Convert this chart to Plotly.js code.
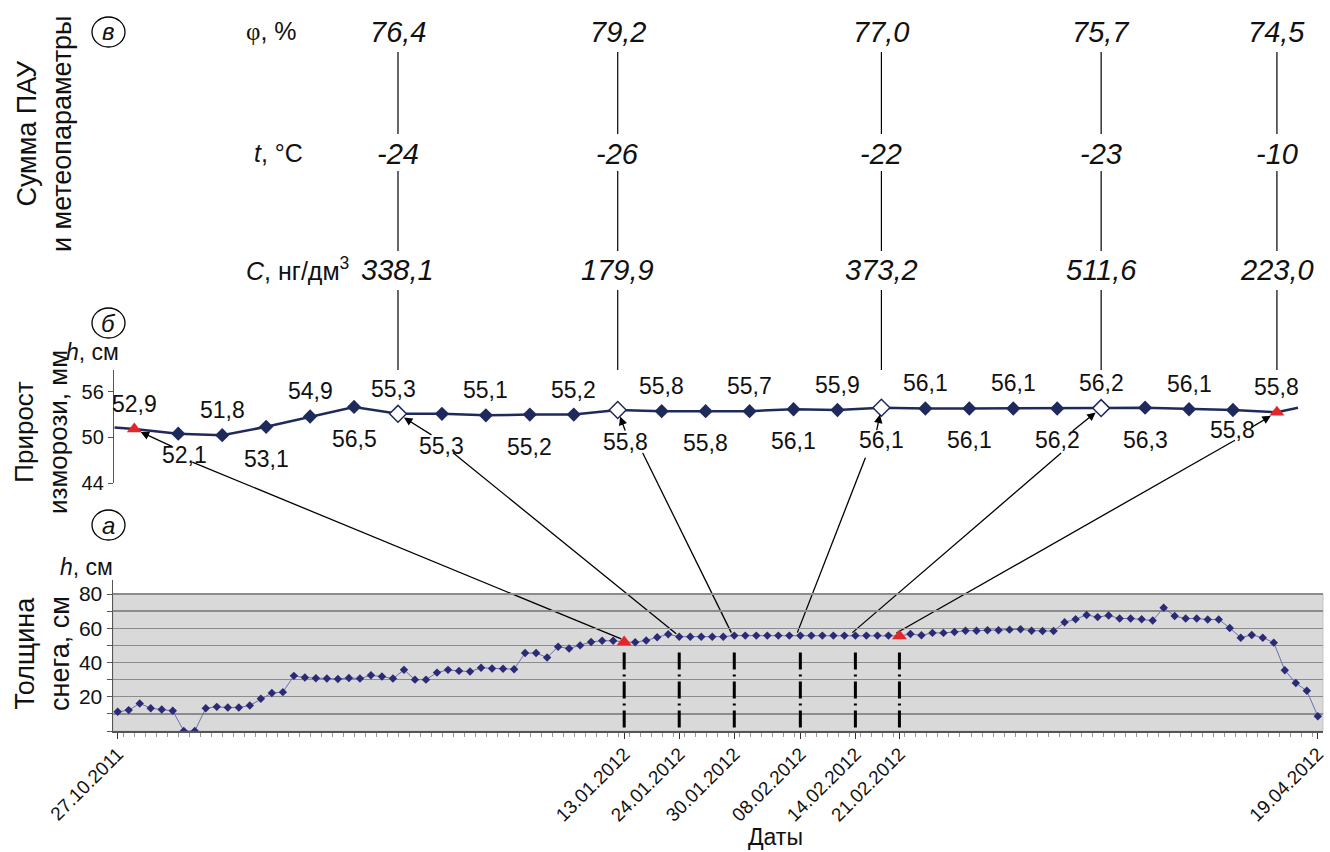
<!DOCTYPE html>
<html><head><meta charset="utf-8">
<script src="https://cdn.plot.ly/plotly-3.0.1.min.js"></script>
<style>html,body{margin:0;padding:0;background:#fff}#chart{width:1330px;height:852px}</style>
</head><body><div id="chart"></div>
<script>
// ================= DATA =================
// (а) snow depth, cm, one value per measurement (category index)
const snowDepth = [
 11.2,12.2,16.1,13.3,12.5,11.8,0,0,13.3,14.1,
 13.7,13.7,14.9,18.8,22.2,22.7,32.2,31.2,30.8,30.6,
 30.4,31.0,30.6,32.5,31.8,30.6,35.7,30.0,30.0,34.1,
 35.7,35.1,34.7,36.9,36.5,36.3,36.1,45.5,45.5,42.9,
 49.2,48.2,50.0,52.0,52.7,52.7,52.0,51.8,52.9,54.7,
 56.5,55.1,55.1,55.1,55.1,55.1,55.7,55.7,55.7,55.7,
 55.7,55.7,55.7,55.7,55.7,55.7,55.7,55.7,55.7,55.7,
 55.7,55.5,56.6,55.9,57.3,57.3,57.8,58.6,58.6,58.8,
 58.8,59.2,59.4,58.6,58.4,58.4,63.5,65.3,67.8,66.5,
 67.5,65.7,65.7,65.3,64.5,72.0,67.1,65.7,65.7,65.1,
 65.1,60.2,54.5,56.1,54.5,51.6,35.5,28.0,23.5,8.6
];
const snowDateIdx   = [0, 46, 51, 56, 62, 67, 71, 109];
const snowDateText  = ['27.10.2011','13.01.2012','24.01.2012','30.01.2012','08.02.2012','14.02.2012','21.02.2012','19.04.2012'];
const snowSampleIdx = [46, 51, 56, 62, 67, 71];
const snowTriangleIdx = [46, 71];

// (б) rime growth: plotted heights and their value labels
const rimeH = [51.1,50.5,50.3,51.4,52.75,54.0,53.1,53.1,52.9,53.0,53.0,53.6,53.45,53.45,53.45,53.7,53.6,53.9,53.8,53.8,53.8,53.8,53.85,53.9,53.7,53.6,53.3];
const rimeLabels = [52.9,52.1,51.8,53.1,54.9,56.5,55.3,55.3,55.1,55.2,55.2,55.8,55.8,55.8,55.7,56.1,55.9,56.1,56.1,56.1,56.1,56.2,56.2,56.3,56.1,55.8,55.8];
const rimeEdgeX = [-0.45, 26.48];
const rimeEdgeY = [51.3, 53.9];
const rimeHollowIdx = [6, 11, 17, 22];
const rimeTriangleIdx = [0, 26];

// links between snow samples and rime points
const linkSnowIdx = [46, 51, 56, 62, 67, 71];
const linkRimeIdx = [0, 6, 11, 17, 22, 26];

// (в) PAH sum and meteo parameters at rime points
const metRimeIdx  = [6, 11, 17, 22, 26];
const humidity    = [76.4, 79.2, 77.0, 75.7, 74.5];
const temperature = [-24, -26, -22, -23, -10];
const pahSum      = [338.1, 179.9, 373.2, 511.6, 223.0];

// ================= LAYOUT GEOMETRY (pixels) =================
const W = 1330, H = 852;
const FONT = 'Liberation Sans, Arial, sans-serif';
const G = {
  mid: {x0:114, x1:1320, y0:370, y1:483.3, xr:[-0.462, 26.98], yr:[44, 58.84]},
  bot: {x0:113, x1:1323, y0:580, y1:731,   xr:[-0.427, 109.47], yr:[0, 88.18]}
};
const px = (g, v) => g.x0 + (v - g.xr[0]) / (g.xr[1] - g.xr[0]) * (g.x1 - g.x0);
const py = (g, v) => g.y1 - (v - g.yr[0]) / (g.yr[1] - g.yr[0]) * (g.y1 - g.y0);
const P = x => x / W, Q = y => 1 - y / H;
const fmt1 = v => v.toFixed(1).replace('.', ',');

const NAVY = '#1f2a5c', RED = '#e3262b';
const rimeIdx = rimeH.map((_, i) => i);
const rimePlainIdx = rimeIdx.filter(i => !rimeHollowIdx.includes(i) && !rimeTriangleIdx.includes(i));
const snowIdx = snowDepth.map((_, i) => i);
const snowPlainIdx = snowIdx.filter(i => !snowTriangleIdx.includes(i));

const traces = [
  // snow depth
  {x: snowIdx, y: snowDepth, xaxis:'x2', yaxis:'y2', mode:'lines',
   line:{color:'#6c6cb8', width:1}, hoverinfo:'skip'},
  {x: snowPlainIdx, y: snowPlainIdx.map(i => snowDepth[i]), xaxis:'x2', yaxis:'y2', mode:'markers',
   marker:{symbol:'diamond', size:6.5, color:'#2b2b75'}, hoverinfo:'skip'},
  {x: snowTriangleIdx, y: snowTriangleIdx.map(i => snowDepth[i]), xaxis:'x2', yaxis:'y2', mode:'markers',
   marker:{symbol:'triangle-up', size:13, color:RED}, hoverinfo:'skip'},
  // rime growth
  {x: [rimeEdgeX[0], ...rimeIdx, rimeEdgeX[1]], y: [rimeEdgeY[0], ...rimeH, rimeEdgeY[1]], mode:'lines',
   line:{color:NAVY, width:2.5}, hoverinfo:'skip'},
  {x: rimePlainIdx, y: rimePlainIdx.map(i => rimeH[i]), mode:'markers', marker:{symbol:'diamond', size:11, color:NAVY}, hoverinfo:'skip'},
  {x: rimeHollowIdx, y: rimeHollowIdx.map(i => rimeH[i]), mode:'markers',
   marker:{symbol:'diamond', size:13, color:'#ffffff', line:{color:NAVY, width:1.5}}, hoverinfo:'skip'},
  {x: rimeTriangleIdx, y: rimeTriangleIdx.map(i => rimeH[i]), mode:'markers',
   marker:{symbol:'triangle-up', size:13, color:RED}, hoverinfo:'skip'}
];

const shapes = [];
const annotations = [];

// gray plot background of snow panel (0..80)
shapes.push({type:'rect', xref:'paper', yref:'paper', layer:'below',
  x0:P(G.bot.x0), x1:P(G.bot.x1), y0:Q(py(G.bot, 0)), y1:Q(py(G.bot, 80)),
  fillcolor:'#d9d9d9', line:{color:'#c4c4c4', width:1}});

// links from snow samples to rime points (pixel offsets of the upper end)
const linkTopOff = [[58,33],[55,39],[25,43],[-16,50],[-40,45],[-42,28]];
linkSnowIdx.forEach((k, n) => {
  const j = linkRimeIdx[n];
  shapes.push({type:'line', xref:'paper', yref:'paper', layer:'below',
    x0:P(px(G.bot, k) - 3), y0:Q(py(G.bot, snowDepth[k]) - 3),
    x1:P(px(G.mid, j) + linkTopOff[n][0]), y1:Q(py(G.mid, rimeH[j]) + linkTopOff[n][1]),
    line:{color:'#000', width:1.3}});
});

// dash-dot sample markers in snow panel
const dashTop = 48, dashBottom = 2;
snowSampleIdx.forEach(k => shapes.push({type:'line', xref:'x2', yref:'y2', x0:k, x1:k, y0:dashBottom, y1:dashTop,
  line:{color:'#000', width:3, dash:'17px,5px,2px,5px'}}));

// short arrows from labels to the marked rime points
const arrowTail = [[39,18],[35,22],[8,22],[-5,24],[-30,24],[-27,16]];
linkRimeIdx.forEach((j, n) => annotations.push({xref:'x', yref:'y', x:j, y:rimeH[j], text:'', showarrow:true,
  ax:arrowTail[n][0], ay:arrowTail[n][1], arrowhead:2, arrowsize:1.3, arrowwidth:1.3, arrowcolor:'#000', standoff:7}));

// rime value labels, alternating above / below
const belowShift = {1:21, 25:20};
const labelDx = {1:6, 11:8, 6:-4};
rimeLabels.forEach((v, i) => {
  const top = i % 2 === 0;
  annotations.push({xref:'x', yref:'y', x:i, y:rimeH[i], text:fmt1(v), showarrow:false,
    xshift: labelDx[i] || 0,
    yshift: top ? 25 : -(belowShift[i] || 32),
    font:{family:FONT, size:23, color:'#111'}});
});

// (в) meteo columns
const rowY = [32, 154, 270];
const segs = [[52,134],[171,251],[290,370]];
metRimeIdx.forEach((j, n) => {
  const x = px(G.mid, j);
  segs.forEach(s => shapes.push({type:'line', xref:'paper', yref:'paper', x0:P(x), x1:P(x), y0:Q(s[0]), y1:Q(s[1]),
    line:{color:'#000', width:1.2}}));
  [fmt1(humidity[n]), String(temperature[n]), fmt1(pahSum[n])].forEach((t, r) =>
    annotations.push({xref:'paper', yref:'paper', x:P(x), y:Q(rowY[r]), text:'<i>'+t+'</i>', showarrow:false,
      xanchor:'center', yanchor:'middle', font:{family:FONT, size:29, color:'#111'}}));
});
const rowLabels = ['<span style="font-family:Liberation Serif">φ</span>, %', '<i>t</i>, °C', '<i>C</i>, нг/дм<sup>3</sup>'];
const rowLabelX = [244, 252, 244];
rowLabels.forEach((t, r) => annotations.push({xref:'paper', yref:'paper', x:P(rowLabelX[r]), y:Q(rowY[r] - 1), text:t,
  showarrow:false, xanchor:'left', yanchor:'middle', font:{family:FONT, size:25, color:'#111'}}));

// panel letters in circles
[['в',32],['б',323],['а',525]].forEach(([t, cy]) => {
  shapes.push({type:'circle', xref:'paper', yref:'paper', x0:P(92), x1:P(125), y0:Q(cy+15), y1:Q(cy-15),
    line:{color:'#000', width:1.3}});
  annotations.push({xref:'paper', yref:'paper', x:P(108.5), y:Q(cy), text:'<i>'+t+'</i>', showarrow:false,
    xanchor:'center', yanchor:'middle', font:{family:FONT, size:24, color:'#111'}});
});

// side titles
[['Сумма ПАУ<br>и метеопараметры', 45, 134, 27], ['Прирост<br>изморози, мм', 41, 432, 26], ['Толщина<br>снега, см', 42, 654, 27]]
  .forEach(([t, x, y, s]) => annotations.push({xref:'paper', yref:'paper', x:P(x), y:Q(y), text:t, textangle:-90,
    showarrow:false, xanchor:'center', yanchor:'middle', font:{family:FONT, size:s, color:'#111'}}));
[[92, 352], [86, 567]].forEach(([x, y]) => annotations.push({xref:'paper', yref:'paper', x:P(x), y:Q(y),
  text:'<i>h</i>, см', showarrow:false, xanchor:'center', yanchor:'middle', font:{family:FONT, size:23, color:'#111'}}));
annotations.push({xref:'paper', yref:'paper', x:P(775), y:Q(837), text:'Даты', showarrow:false,
  xanchor:'center', yanchor:'middle', font:{family:FONT, size:23, color:'#111'}});

const layout = {
  width:W, height:H, margin:{l:0, r:0, t:0, b:0}, showlegend:false,
  paper_bgcolor:'#fff', plot_bgcolor:'rgba(0,0,0,0)', font:{family:FONT, color:'#111'},
  xaxis:{domain:[P(G.mid.x0), P(G.mid.x1)], range:G.mid.xr, visible:false, fixedrange:true},
  yaxis:{domain:[Q(G.mid.y1), Q(G.mid.y0)], range:G.mid.yr, anchor:'x', showline:true, linecolor:'#555', linewidth:1.2,
    ticks:'outside', ticklen:5, tickcolor:'#555', tickmode:'array', tickvals:[44,50,56], showgrid:false, zeroline:false,
    tickfont:{size:20, color:'#111'}},
  xaxis2:{domain:[P(G.bot.x0), P(G.bot.x1)], range:G.bot.xr, anchor:'y2', showline:true, linecolor:'#555', linewidth:1.5,
    showgrid:false, zeroline:false, tickmode:'array', tickvals:snowDateIdx, ticktext:snowDateText, tickangle:-45,
    ticks:'outside', ticklen:6, tickcolor:'#333', tickfont:{size:19, color:'#111'}, ticklabelstandoff:-3,
    minor:{tickmode:'linear', tick0:0.5, dtick:1, ticks:'outside', ticklen:4, tickcolor:'#999', showgrid:false}},
  yaxis2:{domain:[Q(G.bot.y1), Q(G.bot.y0)], range:G.bot.yr, anchor:'x2', showline:true, linecolor:'#555', linewidth:1.5,
    tickmode:'array', tickvals:[20,40,60,80], ticks:'outside', ticklen:5, tickcolor:'#555',
    showgrid:true, gridcolor:'#8c8c8c', gridwidth:1.3, zeroline:false, tickfont:{size:21, color:'#111'},
    minor:{tickmode:'linear', tick0:0, dtick:10, ticks:'outside', ticklen:5, tickcolor:'#555', showgrid:true, gridcolor:'#8c8c8c', gridwidth:1.3}},
  shapes, annotations
};
Plotly.newPlot('chart', traces, layout, {staticPlot:true, displayModeBar:false});
</script></body></html>
